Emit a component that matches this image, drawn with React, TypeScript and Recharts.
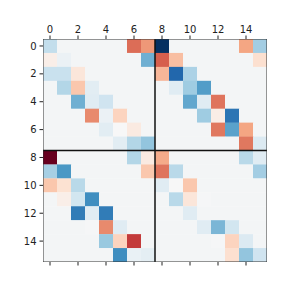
import { ScatterChart, Scatter, XAxis, YAxis } from 'recharts';

// matrix rows (row index = y, column index = x)
const row0 = [0.22, 0, 0, 0, 0, 0, -0.57, -0.45, 0.96, 0, 0, 0, 0, 0, -0.41, 0.32];
const row1 = [-0.08, 0.04, 0, 0, 0, 0, 0, 0.46, -0.61, -0.32, 0, 0, 0, 0, 0, -0.18];
const row2 = [0.2, 0.2, -0.14, 0, 0, 0, 0, 0, -0.35, 0.76, 0.29, 0, 0, 0, 0, 0];
const row3 = [0, 0.27, -0.29, 0.09, 0, 0, 0, 0, 0, 0.1, 0.33, 0.53, 0, 0, 0, 0];
const row4 = [0, 0, 0.46, 0.1, 0.18, 0, 0, 0, 0, 0, 0.49, 0.1, -0.55, 0, 0, 0];
const row5 = [0, 0, 0, -0.49, 0.04, -0.24, 0, 0, 0, 0, 0, 0.33, -0.09, 0.7, 0, 0];
const row6 = [0, 0, 0, 0, 0.09, -0.02, -0.11, 0, 0, 0, 0, 0, -0.54, 0.51, -0.41, 0];
const row7 = [0, 0, 0, 0, 0, 0.09, 0.27, 0.37, 0, 0, 0, 0, 0, 0, -0.54, 0.12];
const row8 = [-1, 0, 0, 0, 0, 0, 0.27, -0.11, -0.39, 0, 0, 0, 0, 0, 0.25, 0.1];
const row9 = [0.31, 0.55, 0, 0, 0, 0, 0, -0.29, -0.55, 0.25, 0, 0, 0, 0, 0, 0.32];
const row10 = [-0.29, -0.17, 0.25, 0, 0, 0, 0, 0, 0.1, -0.02, -0.29, 0, 0, 0, 0, 0];
const row11 = [0, -0.08, 0.17, 0.59, 0, 0, 0, 0, 0, 0.25, -0.14, -0.01, 0, 0, 0, 0];
const row12 = [0, 0, 0.67, 0.1, 0.67, 0, 0, 0, 0, 0, 0.1, 0, 0, 0, 0, 0];
const row13 = [0, 0, 0, -0.01, -0.49, 0.1, 0, 0, 0, 0, 0, 0.1, 0.43, 0.17, 0, 0];
const row14 = [0, 0, 0, 0, 0.35, -0.24, -0.71, 0, 0, 0, 0, 0, -0.01, -0.24, 0.12, 0];
const row15 = [0, 0, 0, 0, 0, 0.59, 0.05, 0.08, 0, 0, 0, 0, 0, -0.18, 0.37, 0.18];

const matrix = [row0, row1, row2, row3, row4, row5, row6, row7,
  row8, row9, row10, row11, row12, row13, row14, row15];

const ticks = [0, 2, 4, 6, 8, 10, 12, 14];
const VMIN = -1;
const VMAX = 0.96;

// block separators and frame, in data units
const vSplit = [{ x: 7.5, y: -0.5 }, { x: 7.5, y: 15.5 }];
const hSplit = [{ x: -0.5, y: 7.5 }, { x: 15.5, y: 7.5 }];
const frame = [
  { x: -0.5, y: -0.5 }, { x: 15.5, y: -0.5 }, { x: 15.5, y: 15.5 },
  { x: -0.5, y: 15.5 }, { x: -0.5, y: -0.5 },
];

const RDBU = ['#67001f', '#b2182b', '#d6604d', '#f4a582', '#fddbc7', '#f7f7f7',
  '#d1e5f0', '#92c5de', '#4393c3', '#2166ac', '#053061'];

function hexToRgb(h: string) {
  return [1, 3, 5].map((i) => parseInt(h.slice(i, i + 2), 16));
}

function rdbu(v: number) {
  let t = (v - VMIN) / (VMAX - VMIN);
  t = Math.max(0, Math.min(1, t));
  const pos = t * (RDBU.length - 1);
  const i = Math.min(Math.floor(pos), RDBU.length - 2);
  const f = pos - i;
  const a = hexToRgb(RDBU[i]);
  const b = hexToRgb(RDBU[i + 1]);
  const c = a.map((x, k) => Math.round(x + (b[k] - x) * f));
  return `rgb(${c[0]},${c[1]},${c[2]})`;
}

const cells = matrix.flatMap((row, r) => row.map((v, c) => ({ x: c, y: r, v })));

const W = 288;
const H = 288;
const PLOT_W = 224;
const PLOT_H = 223;
const CW = PLOT_W / 16;
const CH = PLOT_H / 16;

const tickStyle = { fontFamily: 'DejaVu Sans', fontSize: 10, fill: '#222' };

const Cell = (props: any) => {
  const { cx, cy, payload } = props;
  return (
    <rect
      x={cx - CW / 2}
      y={cy - CH / 2}
      width={CW + 0.3}
      height={CH + 0.3}
      fill={rdbu(payload.v)}
    />
  );
};

const NoDot = () => <g />;

export default function App() {
  return (
    <div style={{ width: W, height: H, background: '#fff' }}>
      <style>{`body{margin:0}`}</style>
      <ScatterChart width={W} height={H} margin={{ top: 0, right: 21, bottom: 0, left: 0 }}>
        <XAxis
          xAxisId="top"
          orientation="top"
          type="number"
          dataKey="x"
          domain={[-0.5, 15.5]}
          allowDataOverflow
          ticks={ticks}
          height={39}
          tickSize={3.5}
          tickMargin={3}
          axisLine={false}
          tickLine={{ stroke: '#222' }}
          tick={tickStyle}
          interval={0}
        />
        <XAxis
          xAxisId="bottom"
          orientation="bottom"
          type="number"
          dataKey="x"
          domain={[-0.5, 15.5]}
          allowDataOverflow
          ticks={ticks}
          height={26}
          tickSize={3.5}
          axisLine={false}
          tickLine={{ stroke: '#222' }}
          tickFormatter={() => ''}
          interval={0}
        />
        <YAxis
          yAxisId="left"
          type="number"
          dataKey="y"
          domain={[-0.5, 15.5]}
          allowDataOverflow
          reversed
          ticks={ticks}
          width={43}
          tickSize={3.5}
          tickMargin={3}
          axisLine={false}
          tickLine={{ stroke: '#222' }}
          tick={tickStyle}
          interval={0}
        />
        <Scatter
          data={cells}
          xAxisId="top"
          yAxisId="left"
          shape={Cell}
          isAnimationActive={false}
        />
        <Scatter
          data={vSplit}
          xAxisId="top"
          yAxisId="left"
          line={{ stroke: '#111', strokeWidth: 1.5 }}
          shape={NoDot}
          isAnimationActive={false}
        />
        <Scatter
          data={hSplit}
          xAxisId="top"
          yAxisId="left"
          line={{ stroke: '#111', strokeWidth: 1.5 }}
          shape={NoDot}
          isAnimationActive={false}
        />
        <Scatter
          data={frame}
          xAxisId="top"
          yAxisId="left"
          line={{ stroke: '#333', strokeWidth: 1 }}
          shape={NoDot}
          isAnimationActive={false}
        />
      </ScatterChart>
    </div>
  );
}
